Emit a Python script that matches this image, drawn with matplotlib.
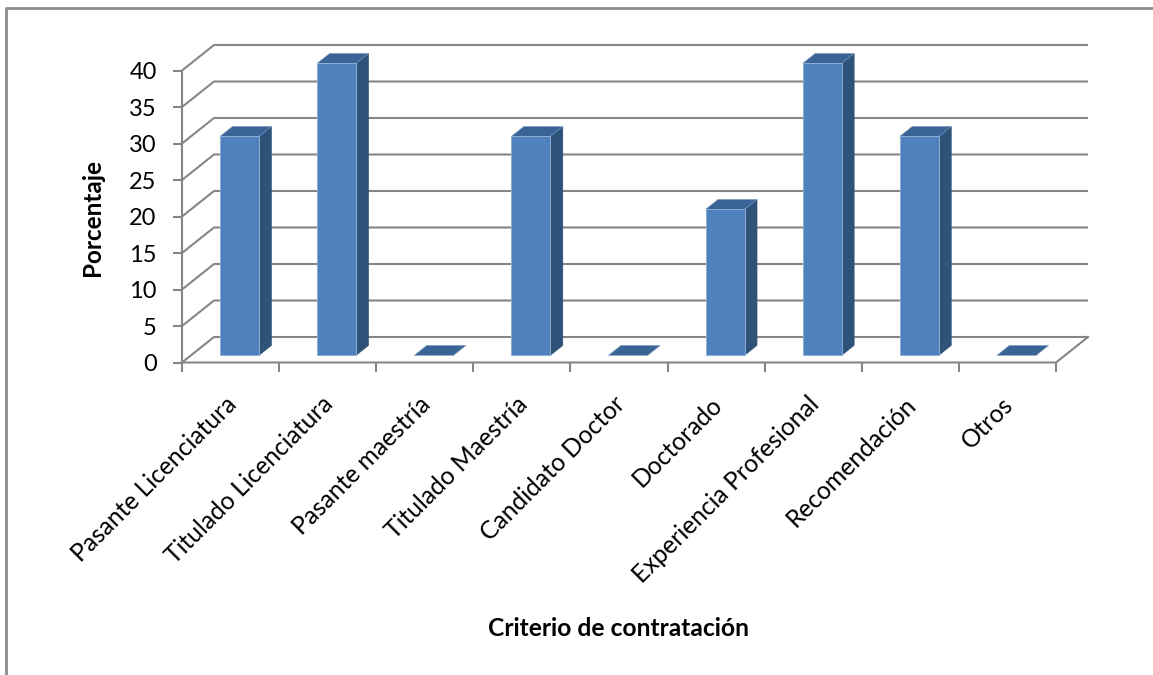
import matplotlib
matplotlib.use('Agg')
import matplotlib.pyplot as plt
from matplotlib.lines import Line2D
from matplotlib.patches import Polygon

categories = ['Pasante Licenciatura', 'Titulado Licenciatura', 'Pasante maestría',
              'Titulado Maestría', 'Candidato Doctor', 'Doctorado',
              'Experiencia Profesional', 'Recomendación', 'Otros']
values = [30, 40, 0, 30, 0, 20, 40, 30, 0]
y_ticks = [0, 5, 10, 15, 20, 25, 30, 35, 40]

W, H = 1153, 675
AX_L, AX_R, AX_TOP, AX_BOT = 182, 1056, 70.5, 362.5
GRID = '#868686'
FONT = 'Lato'

# depth of the fake 3d box in data units
DEPTH_X = 32 / ((AX_R - AX_L) / 9)
DEPTH_Y = 25.5 / ((AX_BOT - AX_TOP) / 40)
BAR_W = 39 / ((AX_R - AX_L) / 9)
D1, D2 = 0.28, 0.67


def project(x, y, d):
    return x + d * DEPTH_X, y + d * DEPTH_Y


fig = plt.figure(figsize=(W / 100, H / 100), dpi=100)
ax = fig.add_axes([AX_L / W, 1 - AX_BOT / H, (AX_R - AX_L) / W, (AX_BOT - AX_TOP) / H])
ax.set_xlim(0, 9)
ax.set_ylim(0, 40)
for s in ax.spines.values():
    s.set_visible(False)

# back wall and side wall gridlines
for v in y_ticks:
    ax.plot([0, DEPTH_X, 9 + DEPTH_X], [v, v + DEPTH_Y, v + DEPTH_Y], color=GRID, lw=1.5,
            clip_on=False, zorder=1, solid_capstyle='butt')
# floor front and right edges
ax.plot([0, 9, 9 + DEPTH_X], [0, 0, DEPTH_Y], color=GRID, lw=1.5, clip_on=False, zorder=1)
ax.plot([0, 0], [0, 40], color=GRID, lw=1.5, clip_on=False, zorder=1)

# bars
for i, v in enumerate(values):
    left = i + (1 - BAR_W) / 2
    right = left + BAR_W
    front = [project(left, 0, D1), project(right, 0, D1), project(right, v, D1), project(left, v, D1)]
    side = [project(right, 0, D1), project(right, 0, D2), project(right, v, D2), project(right, v, D1)]
    top = [project(left, v, D1), project(right, v, D1), project(right, v, D2), project(left, v, D2)]
    ax.add_patch(Polygon(side, fc='#2F5279', ec='#2F5279', lw=0.4, clip_on=False, zorder=3))
    ax.add_patch(Polygon(top, fc='#3A6496', ec='#7F9FC6', lw=0.4, clip_on=False, zorder=3))
    if v > 0:
        ax.add_patch(Polygon(front, fc='#4F81BD', ec='#8FAED3', lw=0.7, clip_on=False, zorder=4))

ax.set_yticks(y_ticks)
ax.set_xticks(range(10))
ax.set_xticklabels([])
ax.tick_params(axis='both', color=GRID, width=1.5, length=6.2, labelcolor='black')
ax.tick_params(axis='y', labelsize=17, pad=12)
for lab in ax.get_yticklabels():
    lab.set_family(FONT)

# x labels, rotated and anchored at their end under each category
for i, c in enumerate(categories):
    ax.annotate(c, xy=(i + 0.5, 0), xycoords='data', xytext=(2, -38), textcoords='offset pixels',
                rotation=45, rotation_mode='anchor', ha='right', va='center',
                fontsize=17.7, family=FONT, color='black')

fig.text(619 / W, 1 - 628.5 / H, 'Criterio de contratación', ha='center', va='center',
         fontsize=17.7, fontweight='bold', family=FONT)
fig.text(93 / W, 1 - 218 / H, 'Porcentaje', ha='center', va='center', rotation=90,
         fontsize=17.5, fontweight='bold', family=FONT)

# picture frame of the screenshot
fig.add_artist(Line2D([5.5 / W, 5.5 / W, 1], [0, 1 - 8 / H, 1 - 8 / H],
                      color='#8C8C8C', lw=2, transform=fig.transFigure))

fig.savefig('out.png', dpi=100, facecolor='white')
